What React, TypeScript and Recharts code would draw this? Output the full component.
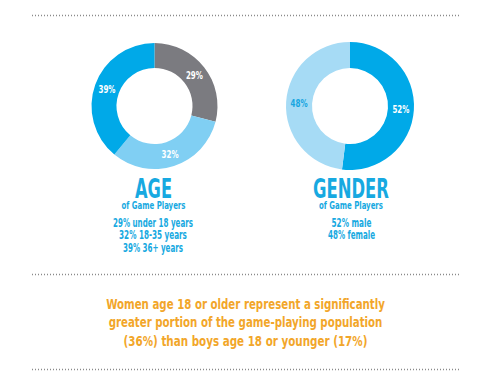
import { PieChart, Pie, Cell } from "recharts";

const ageNames = ["under 18 years", "18-35 years", "36+ years"];
const ageValues = [29, 32, 39];
const ageColors = ["#7b7b80", "#80cff3", "#00a9e8"];
const ageLabelColors = ["#ffffff", "#ffffff", "#ffffff"];
const ageLineWidths = [80, 68, 60];

const genderNames = ["male", "female"];
const genderValues = [52, 48];
const genderColors = ["#00a9e8", "#a6dbf5"];
const genderLabelColors = ["#ffffff", "#17a5e0"];
const genderLineWidths = [40, 47];

const calloutLines = [
  "Women age 18 or older represent a significantly",
  "greater portion of the game-playing population",
  "(36%) than boys age 18 or younger (17%)",
];
const calloutWidths = [279, 274, 244];

const ageData = ageNames.map((name, i) => ({ name, value: ageValues[i] }));
const genderData = genderNames.map((name, i) => ({ name, value: genderValues[i] }));

const FONT = "'DejaVu Sans Condensed', 'Roboto', sans-serif";
const BLUE = "#17a9e1";
const ORANGE = "#f2a62a";

const RADIAN = Math.PI / 180;

// squeeze a line of text to a given width (the original uses a condensed face)
let measureCtx: CanvasRenderingContext2D | null = null;
function squeeze(text: string, size: number, w: number) {
  if (!measureCtx) measureCtx = document.createElement("canvas").getContext("2d");
  if (!measureCtx) return 1;
  measureCtx.font = `700 ${size}px ${FONT}`;
  const m = measureCtx.measureText(text).width;
  return m > 0 ? w / m : 1;
}

function Narrow({ x, y, w, size, fill, text, central }: any) {
  const s = squeeze(text, size, w);
  return (
    <text
      transform={`translate(${x},${y}) scale(${s},1)`}
      textAnchor="middle"
      dominantBaseline={central ? "central" : undefined}
      fill={fill}
      fontFamily={FONT}
      fontWeight={700}
      fontSize={size}
    >
      {text}
    </text>
  );
}

function makeLabel(colors: string[]) {
  return (props: any) => {
    const { cx, cy, midAngle, innerRadius, outerRadius, value, index } = props;
    const r = (innerRadius + outerRadius) / 2;
    const x = cx + r * Math.cos(-midAngle * RADIAN);
    const y = cy + r * Math.sin(-midAngle * RADIAN);
    return <Narrow x={x} y={y} w={17} size={11} fill={colors[index]} text={`${value}%`} central />;
  };
}

function DottedLine({ y }: { y: number }) {
  return (
    <line x1={32} x2={461} y1={y} y2={y} stroke="#8a8a8a" strokeWidth={1.5} strokeDasharray="1 2" />
  );
}

export default function App() {
  return (
    <div style={{ position: "absolute", left: 0, top: 0, width: 498, height: 374, background: "#fff" }}>
      <PieChart
        width={498}
        height={374}
        margin={{ top: 0, right: 0, bottom: 0, left: 0 }}
        style={{ position: "absolute", left: 0, top: 0 }}
      >
        <Pie
          data={ageData}
          dataKey="value"
          cx={154.5}
          cy={106}
          innerRadius={38}
          outerRadius={63}
          startAngle={90}
          endAngle={-270}
          stroke="none"
          labelLine={false}
          label={makeLabel(ageLabelColors)}
          isAnimationActive={false}
        >
          {ageData.map((d, i) => (
            <Cell key={d.name} fill={ageColors[i]} />
          ))}
        </Pie>
        <Pie
          data={genderData}
          dataKey="value"
          cx={350}
          cy={106}
          innerRadius={38}
          outerRadius={64}
          startAngle={90}
          endAngle={-270}
          stroke="none"
          labelLine={false}
          label={makeLabel(genderLabelColors)}
          isAnimationActive={false}
        >
          {genderData.map((d, i) => (
            <Cell key={d.name} fill={genderColors[i]} />
          ))}
        </Pie>
      </PieChart>
      <svg
        width={498}
        height={374}
        style={{ position: "absolute", left: 0, top: 0, pointerEvents: "none" }}
      >
        <DottedLine y={15.5} />
        <DottedLine y={274.5} />
        <DottedLine y={369.5} />

        <Narrow x={153.5} y={198} w={37} size={26} fill={BLUE} text="AGE" />
        <Narrow x={153.5} y={208.5} w={64} size={10.5} fill={BLUE} text="of Game Players" />
        {ageNames.map((n, i) => (
          <Narrow
            key={n}
            x={153}
            y={226.5 + i * 12.5}
            w={ageLineWidths[i]}
            size={11.5}
            fill={BLUE}
            text={`${ageValues[i]}% ${n}`}
          />
        ))}

        <Narrow x={351} y={198} w={76} size={26} fill={BLUE} text="GENDER" />
        <Narrow x={351} y={208.5} w={64} size={10.5} fill={BLUE} text="of Game Players" />
        {genderNames.map((n, i) => (
          <Narrow
            key={n}
            x={351.5}
            y={226.5 + i * 12.5}
            w={genderLineWidths[i]}
            size={11.5}
            fill={BLUE}
            text={`${genderValues[i]}% ${n}`}
          />
        ))}

        {calloutLines.map((l, i) => (
          <Narrow key={i} x={245.5} y={308.5 + i * 18.5} w={calloutWidths[i]} size={14.5} fill={ORANGE} text={l} />
        ))}
      </svg>
    </div>
  );
}
